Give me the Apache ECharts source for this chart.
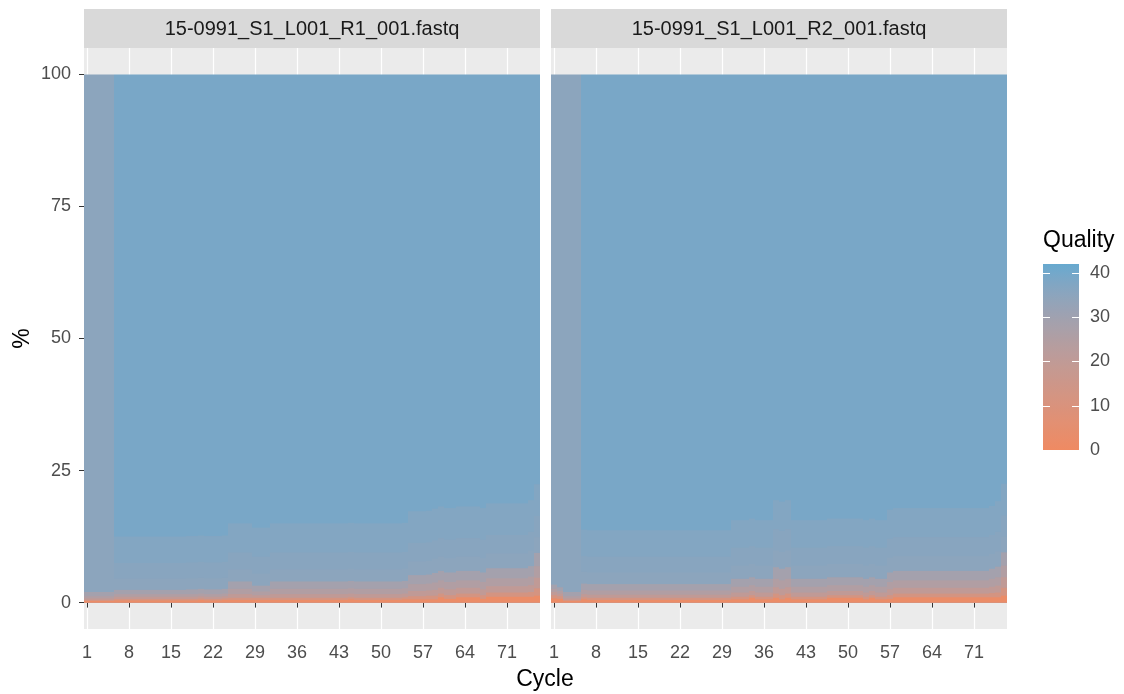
<!DOCTYPE html>
<html>
<head>
<meta charset="utf-8">
<script src="https://cdn.jsdelivr.net/npm/echarts@6/dist/echarts.min.js"></script>
<style>html,body{margin:0;padding:0;background:#fff}#chart{width:1124px;height:694px}</style>
</head>
<body>
<div id="chart"></div>
<script>
// ---------- data ----------
const panelTitles = ['15-0991_S1_L001_R1_001.fastq', '15-0991_S1_L001_R2_001.fastq'];
const cycles = []; for (let c = 1; c <= 76; c++) cycles.push(String(c));
const xTickLabels = ['1','8','15','22','29','36','43','50','57','64','71'];
const yTickValues = [0, 25, 50, 75, 100];
const legendTicks = [0, 10, 20, 30, 40];
const qualityLimits = [0, 42];
const qualityLevels = [2, 12, 20, 25, 29, 35, 36, 37, 39];

// % of reads per quality level, per cycle (R1)
const r1_q2 = [
0.3,0.3,0.3,0.3,0.3,0.4,0.4,0.4,0.4,0.4,
0.4,0.4,0.4,0.4,0.4,0.4,0.4,0.4,0.4,0.5,
0.4,0.4,0.4,0.5,0.5,0.5,0.5,0.5,0.5,0.5,
0.5,0.5,0.5,0.5,0.5,0.5,0.5,0.5,0.5,0.5,
0.5,0.5,0.5,0.5,0.6,0.5,0.5,0.5,0.5,0.5,
0.5,0.5,0.5,0.6,0.6,0.6,0.6,0.6,0.6,1.0,
0.7,0.7,1.0,1.0,1.0,1.0,0.7,1.1,1.1,1.1,
1.1,1.1,1.1,1.1,1.1,1.3];
const r1_q12 = [
0.2,0.2,0.2,0.2,0.2,0.3,0.3,0.3,0.3,0.3,
0.3,0.3,0.3,0.3,0.3,0.3,0.3,0.3,0.3,0.3,
0.3,0.3,0.3,0.3,0.4,0.4,0.4,0.4,0.4,0.4,
0.4,0.4,0.4,0.4,0.4,0.4,0.4,0.4,0.4,0.4,
0.4,0.4,0.4,0.4,0.4,0.4,0.4,0.4,0.4,0.4,
0.4,0.4,0.4,0.4,0.6,0.6,0.6,0.7,0.7,0.7,
0.7,0.7,0.7,0.7,0.7,0.7,0.7,0.8,0.8,0.8,
0.8,0.8,0.8,0.8,0.9,1.4];
const r1_q20 = [
0.3,0.3,0.3,0.3,0.3,0.4,0.4,0.4,0.4,0.4,
0.4,0.4,0.4,0.4,0.4,0.4,0.4,0.4,0.4,0.4,
0.4,0.4,0.4,0.4,0.7,0.7,0.7,0.7,0.5,0.5,
0.5,0.7,0.7,0.7,0.7,0.7,0.7,0.7,0.7,0.7,
0.7,0.7,0.7,0.7,0.7,0.7,0.7,0.7,0.7,0.7,
0.7,0.7,0.7,0.7,1.0,1.0,1.0,1.0,1.1,1.1,
1.1,1.1,1.1,1.1,1.1,1.1,1.1,1.2,1.2,1.2,
1.2,1.2,1.2,1.2,1.3,2.0];
const r1_q25 = [
0.4,0.4,0.4,0.4,0.4,0.5,0.5,0.5,0.5,0.5,
0.5,0.5,0.5,0.5,0.5,0.5,0.5,0.5,0.5,0.5,
0.5,0.5,0.5,0.5,1.0,1.0,1.0,1.0,0.7,0.7,
0.7,1.0,1.0,1.0,1.0,1.0,1.0,1.0,1.0,1.0,
1.0,1.0,1.0,1.0,1.0,1.0,1.0,1.0,1.0,1.0,
1.0,1.0,1.0,1.0,1.3,1.3,1.3,1.3,1.4,1.4,
1.4,1.4,1.4,1.4,1.4,1.4,1.4,1.5,1.5,1.5,
1.5,1.5,1.5,1.5,1.6,2.2];
const r1_q29 = [
0.8,0.8,0.8,0.8,0.8,0.8,0.8,0.8,0.8,0.8,
0.8,0.8,0.8,0.8,0.8,0.8,0.8,0.9,0.9,0.9,
0.9,0.9,0.9,0.9,1.4,1.4,1.4,1.4,1.1,1.1,
1.1,1.4,1.4,1.4,1.4,1.4,1.4,1.4,1.4,1.4,
1.4,1.4,1.4,1.4,1.4,1.4,1.4,1.4,1.4,1.4,
1.4,1.4,1.4,1.4,1.7,1.7,1.7,1.7,1.8,1.8,
1.8,1.8,1.8,1.8,1.8,1.8,1.8,1.9,1.9,1.9,
1.9,1.9,1.9,1.9,2.0,2.5];
const r1_q35 = [
98.0,98.0,98.0,98.0,98.0,2.1,2.1,2.1,2.1,2.1,
2.1,2.1,2.1,2.1,2.1,2.1,2.1,2.1,2.1,2.1,
2.1,2.1,2.1,2.1,2.3,2.3,2.3,2.3,2.3,2.3,
2.3,2.3,2.3,2.3,2.3,2.3,2.3,2.3,2.3,2.3,
2.3,2.3,2.3,2.3,2.3,2.3,2.3,2.3,2.3,2.3,
2.3,2.3,2.3,2.3,2.6,2.6,2.6,2.6,2.7,2.7,
2.7,2.7,2.7,2.7,2.7,2.7,2.7,2.8,2.8,2.8,
2.8,2.8,2.8,2.8,2.9,3.0];
const r1_q36 = [
0,0,0,0,0,3.0,3.0,3.0,3.0,3.0,
3.0,3.0,3.0,3.0,3.0,3.0,3.0,3.0,3.0,3.0,
3.0,3.0,3.0,3.0,3.2,3.2,3.2,3.2,3.2,3.2,
3.2,3.2,3.2,3.2,3.2,3.2,3.2,3.2,3.2,3.2,
3.2,3.2,3.2,3.2,3.2,3.2,3.2,3.2,3.2,3.2,
3.2,3.2,3.2,3.2,3.5,3.5,3.5,3.5,3.5,3.5,
3.5,3.5,3.5,3.5,3.5,3.5,3.5,3.5,3.5,3.5,
3.5,3.5,3.5,3.5,3.6,4.0];
const r1_q37 = [
0,0,0,0,0,5.0,5.0,5.0,5.0,5.0,
5.0,5.0,5.0,5.0,5.0,5.0,5.0,5.0,5.0,5.0,
5.0,5.0,5.0,5.0,5.5,5.5,5.5,5.5,5.5,5.5,
5.5,5.5,5.5,5.5,5.5,5.5,5.5,5.5,5.5,5.5,
5.5,5.5,5.5,5.5,5.5,5.5,5.5,5.5,5.5,5.5,
5.5,5.5,5.5,5.5,6.0,6.0,6.0,6.0,6.0,6.0,
6.0,6.0,6.0,6.0,6.0,6.0,6.0,6.0,6.0,6.0,
6.0,6.0,6.0,6.0,6.0,6.0];

// % of reads per quality level, per cycle (R2)
const r2_q2 = [
0.8,0.7,0.3,0.3,0.3,0.6,0.5,0.5,0.5,0.5,
0.5,0.5,0.5,0.5,0.5,0.5,0.5,0.5,0.5,0.5,
0.5,0.5,0.5,0.5,0.5,0.5,0.5,0.5,0.5,0.5,
0.6,0.6,0.6,0.9,0.6,0.6,0.6,0.9,0.6,0.9,
0.6,0.6,0.6,0.6,0.6,0.6,0.9,0.9,0.9,0.9,
0.9,0.9,0.6,0.9,0.6,0.6,0.7,1.0,1.0,1.0,
1.0,1.0,1.0,1.0,1.0,1.0,1.0,1.0,1.0,1.0,
1.0,1.0,1.0,1.0,1.0,1.3];
const r2_q12 = [
0.6,0.5,0.2,0.2,0.2,0.4,0.4,0.4,0.4,0.4,
0.4,0.4,0.4,0.4,0.4,0.4,0.4,0.4,0.4,0.4,
0.4,0.4,0.4,0.4,0.4,0.4,0.4,0.4,0.4,0.4,
0.5,0.5,0.5,0.5,0.5,0.5,0.5,0.8,0.8,0.8,
0.5,0.5,0.5,0.5,0.5,0.5,0.5,0.5,0.5,0.5,
0.5,0.5,0.5,0.5,0.5,0.5,0.7,0.7,0.7,0.7,
0.7,0.7,0.7,0.7,0.7,0.7,0.7,0.7,0.7,0.7,
0.7,0.7,0.7,0.8,0.9,1.5];
const r2_q20 = [
0.6,0.5,0.3,0.3,0.3,0.6,0.6,0.6,0.6,0.6,
0.6,0.6,0.6,0.6,0.6,0.6,0.6,0.6,0.6,0.6,
0.6,0.6,0.6,0.6,0.6,0.6,0.6,0.6,0.6,0.6,
0.8,0.8,0.8,0.8,0.8,0.8,0.8,1.2,1.2,1.2,
0.8,0.8,0.8,0.8,0.8,0.8,0.8,0.8,0.8,0.8,
0.8,0.8,0.8,0.8,0.8,0.8,1.1,1.1,1.1,1.1,
1.1,1.1,1.1,1.1,1.1,1.1,1.1,1.1,1.1,1.1,
1.1,1.1,1.1,1.2,1.3,2.0];
const r2_q25 = [
0.6,0.5,0.4,0.4,0.4,0.8,0.8,0.8,0.8,0.8,
0.8,0.8,0.8,0.8,0.8,0.8,0.8,0.8,0.8,0.8,
0.8,0.8,0.8,0.8,0.8,0.8,0.8,0.8,0.8,0.8,
1.1,1.1,1.1,1.1,1.1,1.1,1.1,1.6,1.6,1.6,
1.1,1.1,1.1,1.1,1.1,1.1,1.1,1.1,1.1,1.1,
1.1,1.1,1.1,1.1,1.1,1.1,1.4,1.4,1.4,1.4,
1.4,1.4,1.4,1.4,1.4,1.4,1.4,1.4,1.4,1.4,
1.4,1.4,1.4,1.5,1.6,2.2];
const r2_q29 = [
0.8,0.7,0.8,0.8,0.8,1.2,1.2,1.2,1.2,1.2,
1.2,1.2,1.2,1.2,1.2,1.2,1.2,1.2,1.2,1.2,
1.2,1.2,1.2,1.2,1.2,1.2,1.2,1.2,1.2,1.2,
1.5,1.5,1.5,1.5,1.5,1.5,1.5,2.2,2.2,2.2,
1.5,1.5,1.5,1.5,1.5,1.5,1.5,1.5,1.5,1.5,
1.5,1.5,1.5,1.5,1.5,1.5,1.8,1.8,1.8,1.8,
1.8,1.8,1.8,1.8,1.8,1.8,1.8,1.8,1.8,1.8,
1.8,1.8,1.8,1.9,2.0,2.5];
const r2_q35 = [
96.6,97.1,98.0,98.0,98.0,2.2,2.2,2.2,2.2,2.2,
2.2,2.2,2.2,2.2,2.2,2.2,2.2,2.2,2.2,2.2,
2.2,2.2,2.2,2.2,2.2,2.2,2.2,2.2,2.2,2.2,
2.5,2.5,2.5,2.5,2.5,2.5,2.5,3.2,3.2,3.2,
2.5,2.5,2.5,2.5,2.5,2.5,2.5,2.5,2.5,2.5,
2.5,2.5,2.5,2.5,2.5,2.5,2.8,2.8,2.8,2.8,
2.8,2.8,2.8,2.8,2.8,2.8,2.8,2.8,2.8,2.8,
2.8,2.8,2.8,2.8,2.9,3.0];
const r2_q36 = [
0,0,0,0,0,3.0,3.0,3.0,3.0,3.0,
3.0,3.0,3.0,3.0,3.0,3.0,3.0,3.0,3.0,3.0,
3.0,3.0,3.0,3.0,3.0,3.0,3.0,3.0,3.0,3.0,
3.4,3.4,3.4,3.4,3.4,3.4,3.4,4.0,4.0,4.0,
3.4,3.4,3.4,3.4,3.4,3.4,3.4,3.4,3.4,3.4,
3.4,3.4,3.4,3.4,3.4,3.4,3.6,3.6,3.6,3.6,
3.6,3.6,3.6,3.6,3.6,3.6,3.6,3.6,3.6,3.6,
3.6,3.6,3.6,3.6,3.7,4.0];
const r2_q37 = [
0,0,0,0,0,5.0,5.0,5.0,5.0,5.0,
5.0,5.0,5.0,5.0,5.0,5.0,5.0,5.0,5.0,5.0,
5.0,5.0,5.0,5.0,5.0,5.0,5.0,5.0,5.0,5.0,
5.2,5.2,5.2,5.2,5.2,5.2,5.2,5.5,5.5,5.5,
5.2,5.2,5.2,5.2,5.2,5.2,5.2,5.2,5.2,5.2,
5.2,5.2,5.2,5.2,5.2,5.2,5.5,5.5,5.5,5.5,
5.5,5.5,5.5,5.5,5.5,5.5,5.5,5.5,5.5,5.5,
5.5,5.5,5.5,5.5,5.8,6.0];

// top level (Q39) = remainder of 100 %
function remainder(lowers) {
  return cycles.map((_, i) => Math.max(0, +(100 - lowers.reduce((s, a) => s + a[i], 0)).toFixed(2)));
}
const r1_lower = [r1_q2, r1_q12, r1_q20, r1_q25, r1_q29, r1_q35, r1_q36, r1_q37];
const r2_lower = [r2_q2, r2_q12, r2_q20, r2_q25, r2_q29, r2_q35, r2_q36, r2_q37];
const r1_q39 = remainder(r1_lower);
const r2_q39 = remainder(r2_lower);
const panelData = [r1_lower.concat([r1_q39]), r2_lower.concat([r2_q39])];

// ---------- colour (ggplot gradient, Lab interpolation) ----------
const lowColor = '#EF8A62', highColor = '#67A9CF';
function hexRgb(h){ return [parseInt(h.slice(1,3),16), parseInt(h.slice(3,5),16), parseInt(h.slice(5,7),16)]; }
function toLin(c){ c/=255; return c<=0.04045 ? c/12.92 : Math.pow((c+0.055)/1.055, 2.4); }
function fromLin(v){ v = v<=0.0031308 ? 12.92*v : 1.055*Math.pow(v,1/2.4)-0.055; return Math.round(Math.max(0,Math.min(1,v))*255); }
const WN = [0.95047, 1.0, 1.08883];
function fLab(t){ return t > 216/24389 ? Math.cbrt(t) : (24389/27*t + 16)/116; }
function fInv(f){ const f3 = f*f*f; return f3 > 216/24389 ? f3 : (116*f - 16)/(24389/27); }
function rgbToLab(rgb){
  const r = toLin(rgb[0]), g = toLin(rgb[1]), b = toLin(rgb[2]);
  const X = (0.4124564*r + 0.3575761*g + 0.1804375*b)/WN[0];
  const Y = (0.2126729*r + 0.7151522*g + 0.0721750*b)/WN[1];
  const Z = (0.0193339*r + 0.1191920*g + 0.9503041*b)/WN[2];
  const fx = fLab(X), fy = fLab(Y), fz = fLab(Z);
  return [116*fy - 16, 500*(fx - fy), 200*(fy - fz)];
}
function labToHex(lab){
  const fy = (lab[0]+16)/116, fx = fy + lab[1]/500, fz = fy - lab[2]/200;
  const X = fInv(fx)*WN[0], Y = fInv(fy)*WN[1], Z = fInv(fz)*WN[2];
  const r = 3.2404542*X - 1.5371385*Y - 0.4985314*Z;
  const g = -0.9692660*X + 1.8760108*Y + 0.0415560*Z;
  const b = 0.0556434*X - 0.2040259*Y + 1.0572252*Z;
  return '#' + [fromLin(r), fromLin(g), fromLin(b)].map(v => v.toString(16).padStart(2,'0')).join('');
}
const labLow = rgbToLab(hexRgb(lowColor)), labHigh = rgbToLab(hexRgb(highColor));
function qualColor(q){
  const t = Math.max(0, Math.min(1, (q - qualityLimits[0])/(qualityLimits[1] - qualityLimits[0])));
  return labToHex([0,1,2].map(k => labLow[k] + (labHigh[k] - labLow[k])*t));
}

// ---------- layout ----------
const FONT = '"Liberation Sans", Arial, sans-serif';
const panels = [{left: 84, width: 456}, {left: 551, width: 456}];
const PTOP = 48, PH = 581;
const isTick = (idx, val) => xTickLabels.indexOf(val) >= 0;

const grids = panels.map(p => ({left: p.left, top: PTOP, width: p.width, height: PH, show: true,
  backgroundColor: '#EBEBEB', borderWidth: 0, containLabel: false, outerBoundsMode: 'none'}));

const xAxes = panels.map((p, i) => ({
  type: 'category', gridIndex: i, data: cycles, boundaryGap: true,
  axisLine: {show: false},
  axisTick: {show: true, interval: isTick, alignWithLabel: true, length: 5, lineStyle: {color: '#333333', width: 1}},
  axisLabel: {interval: isTick, color: '#4D4D4D', fontSize: 18, fontFamily: FONT, margin: 15},
  splitLine: {show: true, interval: isTick, alignWithLabel: true, lineStyle: {color: '#FFFFFF', width: 1.2}}
}));

const yAxes = panels.map((p, i) => ({
  type: 'value', gridIndex: i, min: -5, max: 105,
  name: i === 0 ? '%' : '', nameLocation: 'middle', nameGap: 50, nameRotate: 90,
  nameTextStyle: {color: '#000', fontSize: 23, fontFamily: FONT},
  axisLine: {show: false},
  axisTick: {show: i === 0, customValues: yTickValues, length: 5, lineStyle: {color: '#333333'}},
  axisLabel: {show: i === 0, customValues: yTickValues, color: '#4D4D4D', fontSize: 18, fontFamily: FONT, margin: 13},
  splitLine: {show: false}
}));

// Each quality level drawn as a bar from 0 up to its cumulative %, higher levels first,
// so every level covers the part of the column that belongs to it (no seams).
const series = [];
panelData.forEach((levelsData, p) => {
  const cum = [];
  levelsData.forEach((arr, k) => {
    cum.push(arr.map((v, i) => +((k ? cum[k-1][i] : 0) + v).toFixed(3)));
  });
  for (let k = levelsData.length - 1; k >= 0; k--) {
    series.push({
      type: 'bar', name: 'Q' + qualityLevels[k], xAxisIndex: p, yAxisIndex: p,
      data: cum[k].map((v, i) => levelsData[k][i] > 0 ? v : null),
      barCategoryGap: '0%', barGap: '-100%',
      itemStyle: {color: qualColor(qualityLevels[k])},
      silent: true, animation: false, emphasis: {disabled: true}
    });
  }
});

// legend (colour bar) geometry
const LB = {x: 1043, y: 264, w: 36, h: 186};
const lbY = v => LB.y + (qualityLimits[1] - v)/(qualityLimits[1] - qualityLimits[0]) * LB.h;
const stops = [];
for (let s = 0; s <= 20; s++) {
  const v = qualityLimits[1] - s/20*(qualityLimits[1]-qualityLimits[0]);
  stops.push({offset: s/20, color: qualColor(v)});
}
const graphics = [];
panels.forEach((p, i) => {
  graphics.push({type: 'rect', shape: {x: p.left, y: 9, width: p.width, height: PTOP - 9}, style: {fill: '#D9D9D9'}, silent: true});
  graphics.push({type: 'text', style: {x: p.left + p.width/2, y: 29.5, text: panelTitles[i], fill: '#1A1A1A',
    font: '20px ' + FONT, align: 'center', verticalAlign: 'middle'}, silent: true});
});
graphics.push({type: 'text', style: {x: 545, y: 680, text: 'Cycle', fill: '#000', font: '23px ' + FONT, align: 'center', verticalAlign: 'middle'}, silent: true});
graphics.push({type: 'text', style: {x: LB.x, y: 241, text: 'Quality', fill: '#000', font: '23px ' + FONT, align: 'left', verticalAlign: 'middle'}, silent: true});
graphics.push({type: 'rect', shape: {x: LB.x, y: LB.y, width: LB.w, height: LB.h},
  style: {fill: new echarts.graphic.LinearGradient(0, 0, 0, 1, stops)}, silent: true});
legendTicks.forEach(v => {
  const y = Math.round(lbY(v)) + 0.5;
  graphics.push({type: 'line', shape: {x1: LB.x, y1: y, x2: LB.x + 7, y2: y}, style: {stroke: '#FFFFFF', lineWidth: 1}, silent: true});
  graphics.push({type: 'line', shape: {x1: LB.x + LB.w - 7, y1: y, x2: LB.x + LB.w, y2: y}, style: {stroke: '#FFFFFF', lineWidth: 1}, silent: true});
  graphics.push({type: 'text', style: {x: LB.x + LB.w + 11, y: y, text: String(v), fill: '#4D4D4D', font: '18px ' + FONT, align: 'left', verticalAlign: 'middle'}, silent: true});
});

const chart = echarts.init(document.getElementById('chart'), null, {renderer: 'canvas'});
chart.setOption({
  animation: false,
  backgroundColor: '#FFFFFF',
  grid: grids, xAxis: xAxes, yAxis: yAxes, series: series,
  graphic: {elements: graphics}
});
</script>
</body>
</html>
